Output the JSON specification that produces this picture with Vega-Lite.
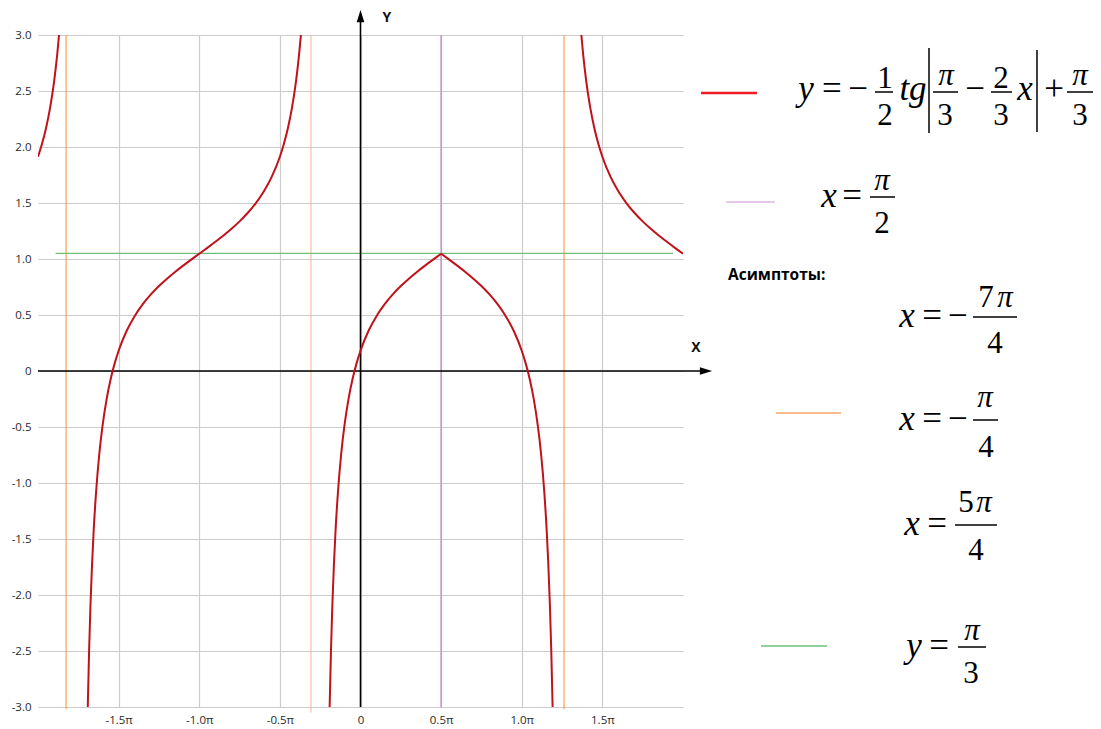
{
  "$schema": "https://vega.github.io/schema/vega-lite/v6.json",
  "width": 645,
  "height": 672,
  "autosize": "none",
  "padding": {"left": 38, "top": 35, "right": 418, "bottom": 22},
  "background": "white",
  "config": {"view": {"stroke": null}},
  "datasets": {
    "curve": [
      {"b":"b1","t":-2,"y":1.9132},{"b":"b1","t":-1.975,"y":2.0285},{"b":"b1","t":-1.95,"y":2.1702},{"b":"b1","t":-1.925,"y":2.3497},{"b":"b1","t":-1.9,"y":2.586},{"b":"b1","t":-1.89,"y":2.7033},{"b":"b1","t":-1.88,"y":2.8379},{"b":"b1","t":-1.8696,"y":3.0},
      {"b":"b2","t":-1.6914,"y":-3.0},{"b":"b2","t":-1.683,"y":-2.4926},{"b":"b2","t":-1.675,"y":-2.1097},{"b":"b2","t":-1.665,"y":-1.7318},{"b":"b2","t":-1.655,"y":-1.4325},{"b":"b2","t":-1.64,"y":-1.0846},{"b":"b2","t":-1.62,"y":-0.7435},{"b":"b2","t":-1.61,"y":-0.6089},{"b":"b2","t":-1.6,"y":-0.4916},{"b":"b2","t":-1.575,"y":-0.2553},{"b":"b2","t":-1.55,"y":-0.0758},{"b":"b2","t":-1.525,"y":0.0659},{"b":"b2","t":-1.5,"y":0.1812},{"b":"b2","t":-1.45,"y":0.359},{"b":"b2","t":-1.4,"y":0.4919},{"b":"b2","t":-1.35,"y":0.597},{"b":"b2","t":-1.3,"y":0.6839},{"b":"b2","t":-1.25,"y":0.7585},{"b":"b2","t":-1.2,"y":0.8246},{"b":"b2","t":-1.15,"y":0.8847},{"b":"b2","t":-1.1,"y":0.9409},{"b":"b2","t":-1.05,"y":0.9947},{"b":"b2","t":-1,"y":1.0472},{"b":"b2","t":-0.95,"y":1.0997},{"b":"b2","t":-0.9,"y":1.1535},{"b":"b2","t":-0.85,"y":1.2097},{"b":"b2","t":-0.8,"y":1.2698},{"b":"b2","t":-0.75,"y":1.3359},{"b":"b2","t":-0.7,"y":1.4105},{"b":"b2","t":-0.65,"y":1.4974},{"b":"b2","t":-0.6,"y":1.6025},{"b":"b2","t":-0.55,"y":1.7354},{"b":"b2","t":-0.5,"y":1.9132},{"b":"b2","t":-0.475,"y":2.0285},{"b":"b2","t":-0.45,"y":2.1702},{"b":"b2","t":-0.425,"y":2.3497},{"b":"b2","t":-0.4,"y":2.586},{"b":"b2","t":-0.39,"y":2.7033},{"b":"b2","t":-0.38,"y":2.8379},{"b":"b2","t":-0.3696,"y":3.0},
      {"b":"b3a","t":-0.1914,"y":-3.0},{"b":"b3a","t":-0.183,"y":-2.4926},{"b":"b3a","t":-0.175,"y":-2.1097},{"b":"b3a","t":-0.165,"y":-1.7318},{"b":"b3a","t":-0.155,"y":-1.4325},{"b":"b3a","t":-0.14,"y":-1.0846},{"b":"b3a","t":-0.12,"y":-0.7435},{"b":"b3a","t":-0.11,"y":-0.6089},{"b":"b3a","t":-0.1,"y":-0.4916},{"b":"b3a","t":-0.075,"y":-0.2553},{"b":"b3a","t":-0.05,"y":-0.0758},{"b":"b3a","t":-0.025,"y":0.0659},{"b":"b3a","t":0,"y":0.1812},{"b":"b3a","t":0.05,"y":0.359},{"b":"b3a","t":0.1,"y":0.4919},{"b":"b3a","t":0.15,"y":0.597},{"b":"b3a","t":0.2,"y":0.6839},{"b":"b3a","t":0.25,"y":0.7585},{"b":"b3a","t":0.3,"y":0.8246},{"b":"b3a","t":0.35,"y":0.8847},{"b":"b3a","t":0.4,"y":0.9409},{"b":"b3a","t":0.45,"y":0.9947},{"b":"b3a","t":0.5,"y":1.0472},
      {"b":"b3b","t":0.5,"y":1.0472},{"b":"b3b","t":0.55,"y":0.9947},{"b":"b3b","t":0.6,"y":0.9409},{"b":"b3b","t":0.65,"y":0.8847},{"b":"b3b","t":0.7,"y":0.8246},{"b":"b3b","t":0.75,"y":0.7585},{"b":"b3b","t":0.8,"y":0.6839},{"b":"b3b","t":0.85,"y":0.597},{"b":"b3b","t":0.9,"y":0.4919},{"b":"b3b","t":0.95,"y":0.359},{"b":"b3b","t":1.0,"y":0.1812},{"b":"b3b","t":1.025,"y":0.0659},{"b":"b3b","t":1.05,"y":-0.0758},{"b":"b3b","t":1.075,"y":-0.2553},{"b":"b3b","t":1.1,"y":-0.4916},{"b":"b3b","t":1.11,"y":-0.6089},{"b":"b3b","t":1.12,"y":-0.7435},{"b":"b3b","t":1.14,"y":-1.0846},{"b":"b3b","t":1.155,"y":-1.4325},{"b":"b3b","t":1.165,"y":-1.7318},{"b":"b3b","t":1.175,"y":-2.1097},{"b":"b3b","t":1.183,"y":-2.4926},{"b":"b3b","t":1.1914,"y":-3.0},
      {"b":"b4","t":1.3696,"y":3.0},{"b":"b4","t":1.38,"y":2.8379},{"b":"b4","t":1.39,"y":2.7033},{"b":"b4","t":1.4,"y":2.586},{"b":"b4","t":1.425,"y":2.3497},{"b":"b4","t":1.45,"y":2.1702},{"b":"b4","t":1.475,"y":2.0285},{"b":"b4","t":1.5,"y":1.9132},{"b":"b4","t":1.55,"y":1.7354},{"b":"b4","t":1.6,"y":1.6025},{"b":"b4","t":1.65,"y":1.4974},{"b":"b4","t":1.7,"y":1.4105},{"b":"b4","t":1.75,"y":1.3359},{"b":"b4","t":1.8,"y":1.2698},{"b":"b4","t":1.85,"y":1.2097},{"b":"b4","t":1.9,"y":1.1535},{"b":"b4","t":1.95,"y":1.0997},{"b":"b4","t":2.0,"y":1.0472}
    ],
    "mainItalic": [
      {"s":"y","t":2.7628,"y":2.4196},{"s":"tg","t":3.4264,"y":2.4196},{"s":"x","t":4.1209,"y":2.4196},
      {"s":"x","t":2.9054,"y":1.4643},
      {"s":"x","t":3.3891,"y":0.3929},
      {"s":"x","t":3.3891,"y":-0.5268},
      {"s":"x","t":3.4202,"y":-1.4643},
      {"s":"y","t":3.4326,"y":-2.5536}
    ],
    "mainUpright": [
      {"s":"=","t":2.924,"y":2.4196},{"s":"−","t":3.0853,"y":2.4196},{"s":"−","t":3.8109,"y":2.4196},{"s":"+","t":4.3008,"y":2.4196},
      {"s":"=","t":3.0481,"y":1.4643},
      {"s":"=","t":3.5442,"y":0.3929},{"s":"−","t":3.7054,"y":0.3929},
      {"s":"=","t":3.5442,"y":-0.5268},{"s":"−","t":3.7054,"y":-0.5268},
      {"s":"=","t":3.5752,"y":-1.4643},
      {"s":"=","t":3.5876,"y":-2.5536}
    ],
    "fracItalic": [
      {"s":"π","t":3.631,"y":2.5536},{"s":"π","t":4.462,"y":2.5536},
      {"s":"π","t":3.2341,"y":1.6161},
      {"s":"π","t":3.9969,"y":0.5714},
      {"s":"π","t":3.8729,"y":-0.3214},
      {"s":"π","t":3.8667,"y":-1.2589},
      {"s":"π","t":3.7922,"y":-2.4018}
    ],
    "fracUpright": [
      {"s":"1","t":3.2527,"y":2.5268},{"s":"2","t":3.2527,"y":2.1964},{"s":"3","t":3.6248,"y":2.1964},{"s":"2","t":3.9721,"y":2.5268},{"s":"3","t":3.9721,"y":2.1964},{"s":"3","t":4.462,"y":2.1964},
      {"s":"2","t":3.2341,"y":1.2321},
      {"s":"7","t":3.8791,"y":0.5714},{"s":"4","t":3.9349,"y":0.1607},
      {"s":"4","t":3.8791,"y":-0.7679},
      {"s":"5","t":3.755,"y":-1.2589},{"s":"4","t":3.8171,"y":-1.6875},
      {"s":"3","t":3.786,"y":-2.7857}
    ],
    "fracBars": [
      {"t":3.1907,"t2":3.3023,"y":2.4911},{"t":3.5504,"t2":3.7054,"y":2.4911},{"t":3.9101,"t2":4.0403,"y":2.4911},{"t":4.3814,"t2":4.5426,"y":2.4911},
      {"t":3.1597,"t2":3.3147,"y":1.5536},
      {"t":3.7984,"t2":4.0713,"y":0.4821},
      {"t":3.7984,"t2":3.9535,"y":-0.4375},
      {"t":3.6868,"t2":3.9473,"y":-1.375},
      {"t":3.7054,"t2":3.8791,"y":-2.4643}
    ],
    "absBars": [
      {"t":3.5256,"y":2.125,"y2":2.8839},{"t":4.1953,"y":2.1339,"y2":2.8661}
    ]
  },
  "encoding": {
    "x": {"field": "t", "type": "quantitative",
      "scale": {"domain": [-2, 2], "nice": false, "zero": false},
      "axis": {"title": null, "values": [-1.5, -1, -0.5, 0, 0.5, 1, 1.5],
        "labelExpr": "datum.value == 0 ? '0' : (datum.value < 0 ? '-' : '') + format(abs(datum.value), '.1f') + 'π'",
        "grid": true, "gridColor": "#cccccc", "gridWidth": 1.2, "domain": false, "ticks": false, "tickSize": 0,
        "labelPadding": 7, "labelFont": "Open Sans", "labelFontSize": 11.5, "labelColor": "#2a2a2a"}},
    "y": {"field": "y", "type": "quantitative",
      "scale": {"domain": [-3, 3], "nice": false, "zero": false},
      "axis": {"title": null, "values": [-3, -2.5, -2, -1.5, -1, -0.5, 0, 0.5, 1, 1.5, 2, 2.5, 3],
        "labelExpr": "datum.value == 0 ? '0' : (datum.value < 0 ? '-' : '') + format(abs(datum.value), '.1f')",
        "grid": true, "gridColor": "#cccccc", "gridWidth": 1.2, "domain": false, "ticks": false, "tickSize": 0,
        "labelPadding": 7, "labelFont": "Open Sans", "labelFontSize": 11.5, "labelColor": "#2a2a2a"}}
  },
  "layer": [
    {"data": {"values": [{"t": -1.826, "y": -3.02, "y2": 3}, {"t": 1.262, "y": -3.02, "y2": 3}]},
     "mark": {"type": "rule", "color": "#ff8c2a", "strokeWidth": 1},
     "encoding": {"y2": {"field": "y2"}}},
    {"data": {"values": [{"t": -0.307, "y": -3.05, "y2": 3}]},
     "mark": {"type": "rule", "color": "#f8b487", "strokeWidth": 1},
     "encoding": {"y2": {"field": "y2"}}},
    {"data": {"values": [{"t": 0.5, "y": -3, "y2": 3}]},
     "mark": {"type": "rule", "color": "#c690cb", "strokeWidth": 1.5},
     "encoding": {"y2": {"field": "y2"}}},
    {"data": {"values": [{"t": -1.891, "t2": 1.938, "y": 1.05}]},
     "mark": {"type": "rule", "color": "#6fbf74", "strokeWidth": 1.2},
     "encoding": {"x2": {"field": "t2"}}},
    {"data": {"values": [{"t": -2, "t2": 2.1054, "y": 0}]},
     "mark": {"type": "rule", "color": "#000000", "strokeWidth": 1.6},
     "encoding": {"x2": {"field": "t2"}}},
    {"data": {"values": [{"t": 0, "y": -3, "y2": 3.134}]},
     "mark": {"type": "rule", "color": "#000000", "strokeWidth": 1.6},
     "encoding": {"y2": {"field": "y2"}}},
    {"data": {"name": "curve"},
     "mark": {"type": "line", "color": "#c0121a", "strokeWidth": 2, "interpolate": "monotone", "clip": true},
     "encoding": {"detail": {"field": "b"}}},
    {"data": {"values": [{"t": 2.1426, "y": 0}]},
     "mark": {"type": "point", "shape": "M1,0L-1,-0.62L-1,0.62Z", "size": 150, "filled": true, "color": "#000000", "opacity": 1}},
    {"data": {"values": [{"t": 0, "y": 3.1696}]},
     "mark": {"type": "point", "shape": "M0,-1L-0.62,1L0.62,1Z", "size": 150, "filled": true, "color": "#000000", "opacity": 1}},
    {"data": {"values": [{"s": "X", "t": 2.0806, "y": 0.2054}, {"s": "Y", "t": 0.1643, "y": 3.1518}]},
     "mark": {"type": "text", "font": "Open Sans", "fontWeight": "bold", "fontSize": 14, "color": "#111111", "align": "center", "baseline": "middle"},
     "encoding": {"text": {"field": "s"}}},
    {"data": {"values": [{"t": 2.1116, "t2": 2.4589, "y": 2.4821}]},
     "mark": {"type": "rule", "color": "#ee1c25", "strokeWidth": 2.6},
     "encoding": {"x2": {"field": "t2"}}},
    {"data": {"values": [{"t": 2.2667, "t2": 2.5705, "y": 1.5089}]},
     "mark": {"type": "rule", "color": "#d08fd6", "strokeWidth": 1.2},
     "encoding": {"x2": {"field": "t2"}}},
    {"data": {"values": [{"t": 2.5767, "t2": 2.9798, "y": -0.375}]},
     "mark": {"type": "rule", "color": "#f9a468", "strokeWidth": 1.4},
     "encoding": {"x2": {"field": "t2"}}},
    {"data": {"values": [{"t": 2.4837, "t2": 2.893, "y": -2.4554}]},
     "mark": {"type": "rule", "color": "#6cc07a", "strokeWidth": 1.4},
     "encoding": {"x2": {"field": "t2"}}},
    {"data": {"values": [{"s": "Асимптоты:", "t": 2.2791, "y": 0.8125}]},
     "mark": {"type": "text", "font": "Open Sans", "fontWeight": "bold", "fontSize": 15.5, "color": "#000000", "align": "left", "baseline": "alphabetic"},
     "encoding": {"text": {"field": "s"}}},
    {"data": {"name": "mainItalic"},
     "mark": {"type": "text", "font": "Liberation Serif", "fontStyle": "italic", "fontSize": 35, "color": "#000000", "align": "center", "baseline": "alphabetic"},
     "encoding": {"text": {"field": "s"}}},
    {"data": {"name": "mainUpright"},
     "mark": {"type": "text", "font": "Liberation Serif", "fontSize": 35, "color": "#000000", "align": "center", "baseline": "alphabetic"},
     "encoding": {"text": {"field": "s"}}},
    {"data": {"name": "fracItalic"},
     "mark": {"type": "text", "font": "Liberation Serif", "fontStyle": "italic", "fontSize": 31, "color": "#000000", "align": "center", "baseline": "alphabetic"},
     "encoding": {"text": {"field": "s"}}},
    {"data": {"name": "fracUpright"},
     "mark": {"type": "text", "font": "Liberation Serif", "fontSize": 31, "color": "#000000", "align": "center", "baseline": "alphabetic"},
     "encoding": {"text": {"field": "s"}}},
    {"data": {"name": "fracBars"},
     "mark": {"type": "rule", "color": "#000000", "strokeWidth": 1.5},
     "encoding": {"x2": {"field": "t2"}}},
    {"data": {"name": "absBars"},
     "mark": {"type": "rule", "color": "#000000", "strokeWidth": 1.5},
     "encoding": {"y2": {"field": "y2"}}}
  ]
}
